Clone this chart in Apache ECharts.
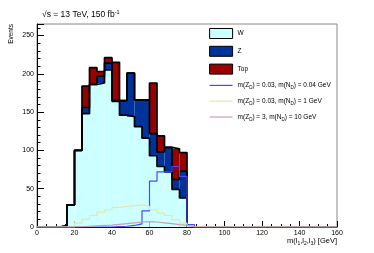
<!DOCTYPE html>
<html>
<head>
<meta charset="utf-8">
<script src="https://cdn.jsdelivr.net/npm/echarts@6/dist/echarts.min.js"></script>
<style>html,body{margin:0;padding:0;background:#fff}#c{width:374px;height:253px}</style>
</head>
<body>
<div id="c"></div>
<script>
// Bin lower edges (GeV), bin width 4 GeV
var binLow = [12,16,20,24,28,32,36,40,44,48,52,56,60,64,68,72,76,80];
var binWidth = 4;
// Background stack
var W   = [1.5,29,100,148,186,188,205,164,146,144,131,116,93,79,72,49,38,0];
var Z   = [0,0,0,8,0,9,9,1,19,57,35,50,29,19,32,13,35,0];
var Top = [0,0,0,28,22,6,7,50,0,0,0,0,66,21,0,40,24,0];
// Signals
var sigA = [0,0,0,0,0,0,0,0.5,1,2,4,21,60,72,72,79,66,3];
var sigB = [0,0,5,10,15,19.5,22.5,25.5,27,28,29,27,22.5,18,15,9.5,5,0.5];
var sigC = [0,0,0.5,1,1.5,2,2.5,3.5,4.5,5.5,6.5,7,6.5,5.5,4.5,3,2,0.5];
var xTicks = [0,20,40,60,80,100,120,140,160];
var yTicks = [0,50,100,150,200,250];

var FONT = '"Liberation Sans", Arial, sans-serif';
var cW = [], cWZ = [], cAll = [];
for (var i = 0; i < binLow.length; i++) {
  cW.push(W[i]); cWZ.push(W[i] + Z[i]); cAll.push(W[i] + Z[i] + Top[i]);
}
function stepData(vals) {
  var d = [[0, 0]];
  for (var i = 0; i < binLow.length; i++) d.push([binLow[i], vals[i]]);
  d.push([binLow[binLow.length - 1] + binWidth, 0]);
  d.push([160, 0]);
  return d;
}
function rectSeries(name, color, lower, upper) {
  var data = [];
  for (var i = 0; i < binLow.length; i++) data.push([binLow[i], lower[i], upper[i]]);
  return {
    name: name, type: 'custom', itemStyle: { color: color, borderColor: '#000', borderWidth: 1 },
    data: data, z: 2,
    renderItem: function (params, api) {
      var x0 = api.value(0), lo = api.value(1), hi = api.value(2);
      if (hi <= lo) return null;
      var p0 = api.coord([x0, hi]), p1 = api.coord([x0 + binWidth, lo]);
      return { type: 'rect', shape: { x: p0[0], y: p0[1], width: p1[0] - p0[0], height: p1[1] - p0[1] },
               style: { fill: color } };
    }
  };
}
function outline(vals, color, width, z, name) {
  return { name: name, type: 'line', step: 'end', data: stepData(vals), symbol: 'none', z: z,
           lineStyle: { color: color, width: width }, itemStyle: { color: color }, silent: true };
}
var zeros = binLow.map(function(){return 0;});
var sigNames = ['m(Z_D) = 0.03, m(N_D) = 0.04 GeV', 'm(Z_D) = 0.03, m(N_D) = 1 GeV', 'm(Z_D) = 3, m(N_D) = 10 GeV'];
var sigColors = ['#4848ff', '#e6e6a8', '#c8a0aa'];
var chart = echarts.init(document.getElementById('c'), null, { renderer: 'canvas' });
chart.setOption({
  animation: false,
  grid: { left: 37, right: 37, top: 24, bottom: 26, show: true, borderColor: '#888', borderWidth: 1 },
  xAxis: {
    type: 'value', min: 0, max: 160, interval: 20,
    axisLine: { lineStyle: { color: '#000', width: 1 } },
    axisTick: { inside: true, length: 6, lineStyle: { color: '#000' } },
    minorTick: { show: true, splitNumber: 4, length: 3, lineStyle: { color: '#000' } },
    splitLine: { show: false },
    axisLabel: { color: '#000', fontSize: 7, fontFamily: FONT, margin: 3,
      formatter: function (v) { return xTicks.indexOf(v) >= 0 ? String(v) : ''; } }
  },
  yAxis: {
    type: 'value', min: 0, max: 265, interval: 50,
    axisLine: { show: true, lineStyle: { color: '#000', width: 1 } },
    axisTick: { show: true, inside: true, length: 7, lineStyle: { color: '#000' } },
    minorTick: { show: true, splitNumber: 5, length: 3.5, lineStyle: { color: '#000' } },
    splitLine: { show: false },
    axisLabel: { color: '#000', fontSize: 7, fontFamily: FONT, margin: 3,
      formatter: function (v) { return yTicks.indexOf(v) >= 0 ? String(v) : ''; } }
  },
  legend: {
    orient: 'vertical', left: 209, top: 28, padding: 0, itemWidth: 23, itemHeight: 10, itemGap: 6.8,
    textStyle: { fontSize: 6.5, fontFamily: FONT, color: '#000',
      rich: { s: { fontSize: 4.5, padding: [5, 0, 0, 0], fontFamily: FONT } } },
    formatter: function (n) { return n.replace(/_D/g, '{s|D}'); },
    data: [
      { name: 'W', icon: 'rect', itemStyle: { color: '#ccffff', borderColor: '#000', borderWidth: 1 } },
      { name: 'Z', icon: 'rect', itemStyle: { color: '#003399', borderColor: '#000', borderWidth: 1 } },
      { name: 'Top', icon: 'rect', itemStyle: { color: '#990000', borderColor: '#000', borderWidth: 1 } },
      { name: sigNames[0], itemStyle: { opacity: 0 }, lineStyle: { color: sigColors[0], width: 1.2 } },
      { name: sigNames[1], itemStyle: { opacity: 0 }, lineStyle: { color: sigColors[1], width: 1.2 } },
      { name: sigNames[2], itemStyle: { opacity: 0 }, lineStyle: { color: sigColors[2], width: 1.2 } }
    ]
  },
  graphic: [
    { type: 'text', left: 42, top: 9, style: { text: '√s = 13 TeV, 150 fb{sup|-1}', font: '8.5px ' + FONT, fill: '#000',
        rich: { sup: { fontSize: 5.5, padding: [0, 0, 5, 0], fontFamily: FONT } } } },
    { type: 'text', x: 11, y: 24, rotation: Math.PI / 2,
      style: { text: 'Events', font: '6.5px ' + FONT, fill: '#000', align: 'right', verticalAlign: 'middle' } },
    { type: 'text', right: 37, top: 237, style: { text: 'm(l{s|1},l{s|2},l{s|3}) [GeV]', font: '7.5px ' + FONT, fill: '#000',
        rich: { s: { fontSize: 5, padding: [5, 0, 0, 0], fontFamily: FONT } } } }
  ],
  series: [
    rectSeries('W', '#ccffff', zeros, cW),
    rectSeries('Z', '#003399', cW, cWZ),
    rectSeries('Top', '#990000', cWZ, cAll),
    outline(cW, '#000', 1.7, 3),
    outline(cWZ, '#000', 1.7, 3),
    outline(cAll, '#000', 1.7, 3),
    outline(sigA, sigColors[0], 1.2, 5, sigNames[0]),
    outline(sigB, sigColors[1], 1.2, 5, sigNames[1]),
    outline(sigC, sigColors[2], 1.2, 5, sigNames[2])
  ]
});
</script>
</body>
</html>
